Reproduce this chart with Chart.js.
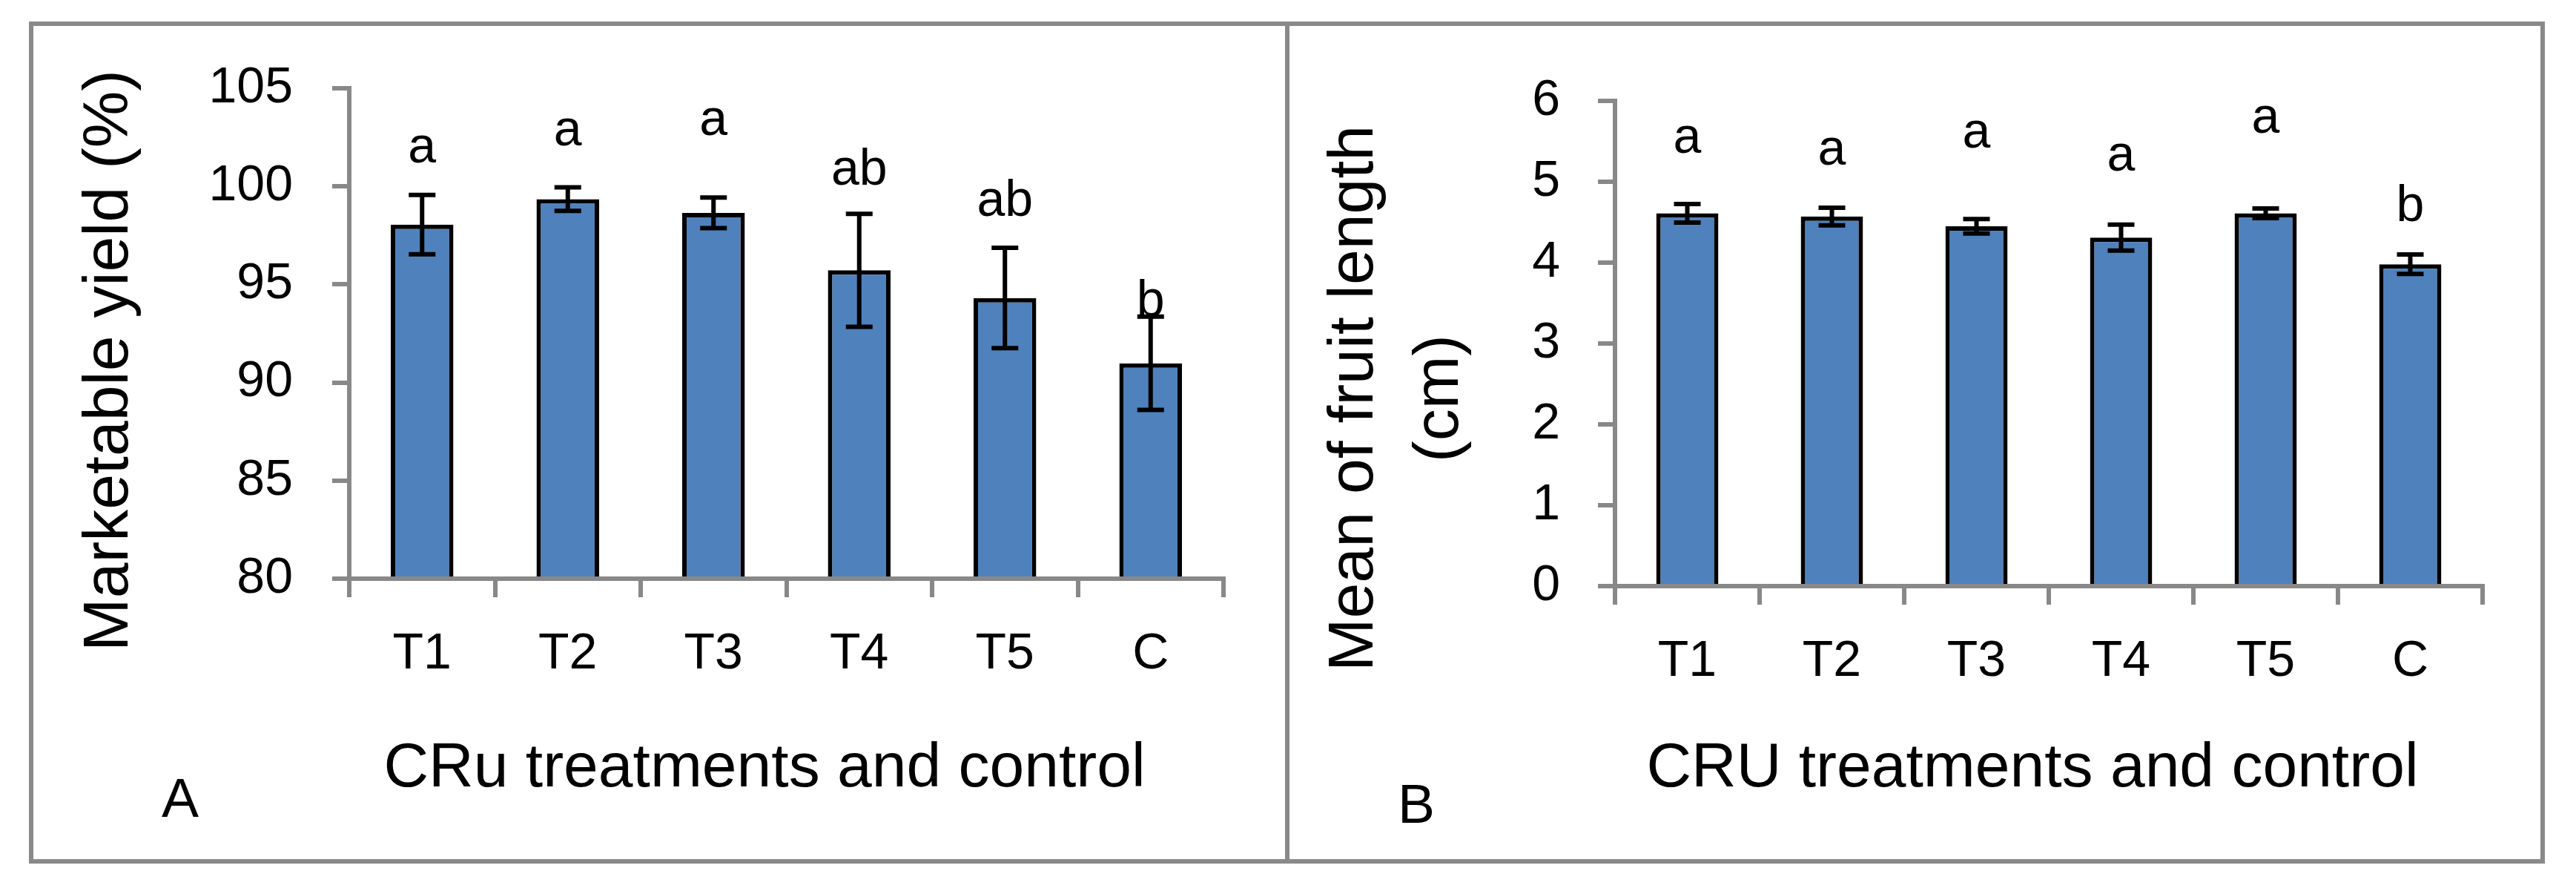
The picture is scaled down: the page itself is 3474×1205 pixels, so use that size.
<!DOCTYPE html>
<html>
<head>
<meta charset="utf-8">
<script src="https://cdn.jsdelivr.net/npm/chart.js@4.4.1/dist/chart.umd.min.js"></script>
<style>
  html, body { margin: 0; padding: 0; background: #fff; }
  #page { position: relative; width: 3474px; height: 1205px; overflow: hidden; background: #fff; }
  #page canvas { position: absolute; left: 0; top: 0; }
  .frame { position: absolute; left: 39px; top: 29px; width: 3393px; height: 1135px;
           border: 6px solid #898989; box-sizing: border-box; }
  .divider { position: absolute; left: 1733px; top: 29px; width: 6px; height: 1135px; background: #898989; }
</style>
</head>
<body>
<div id="page">
  <div class="frame"></div>
  <div class="divider"></div>
  <canvas id="chartA" width="3474" height="1205" style="width:3474px;height:1205px"></canvas>
  <canvas id="chartB" width="3474" height="1205" style="width:3474px;height:1205px"></canvas>
</div>
<script>
// categories shared by both panels
const categories = ["T1", "T2", "T3", "T4", "T5", "C"];

// panel A: marketable yield (%)
const yieldMeans = [98.05, 99.35, 98.65, 95.72, 94.31, 90.98];
const yieldErrors = [1.51, 0.60, 0.78, 2.88, 2.56, 2.38];
const yieldLetters = ["a", "a", "a", "ab", "ab", "b"];
const yieldLetterAt = [101.2, 102.1, 102.6, 100.1, 98.5, 93.4];

// panel B: mean fruit length (cm)
const lengthMeans = [4.61, 4.57, 4.45, 4.31, 4.61, 3.98];
const lengthErrors = [0.115, 0.11, 0.09, 0.16, 0.06, 0.12];
const lengthLetters = ["a", "a", "a", "a", "a", "b"];
const lengthLetterAt = [5.36, 5.21, 5.42, 5.14, 5.61, 4.51];

const FONT = "'Liberation Sans', Arial, sans-serif";
const GRAY = "#888888";
const BLUE = "#4F81BD";

// error bars, significance letters and free text (titles, panel letter)
const marks = {
  id: "marks",
  afterDraw(chart, args, o) {
    const ctx = chart.ctx, y = chart.scales.y;
    const bars = chart.getDatasetMeta(0).data;
    ctx.save();
    ctx.strokeStyle = "#000";
    ctx.lineWidth = 6;
    bars.forEach((bar, i) => {
      const top = y.getPixelForValue(o.means[i] + o.errors[i]);
      const bot = y.getPixelForValue(o.means[i] - o.errors[i]);
      ctx.beginPath();
      ctx.moveTo(bar.x, top); ctx.lineTo(bar.x, bot);
      ctx.moveTo(bar.x - 18, top); ctx.lineTo(bar.x + 18, top);
      ctx.moveTo(bar.x - 18, bot); ctx.lineTo(bar.x + 18, bot);
      ctx.stroke();
    });
    ctx.fillStyle = "#000";
    ctx.textAlign = "center";
    ctx.textBaseline = "alphabetic";
    ctx.font = "68px " + FONT;
    bars.forEach((bar, i) => ctx.fillText(o.letters[i], bar.x, y.getPixelForValue(o.letterAt[i])));
    o.texts.forEach((t) => {
      ctx.save();
      ctx.font = t.size + "px " + FONT;
      ctx.textAlign = t.align || "center";
      ctx.translate(t.x, t.y);
      if (t.rotate) ctx.rotate(-Math.PI / 2);
      ctx.fillText(t.text, 0, 0);
      ctx.restore();
    });
    ctx.restore();
  }
};

function makeChart(id, means, yScale, pad, yWidth, extra) {
  return new Chart(document.getElementById(id), {
    type: "bar",
    data: {
      labels: categories,
      datasets: [{
        data: means,
        backgroundColor: BLUE,
        borderColor: "#000",
        borderWidth: 6,
        barPercentage: 0.43,
        categoryPercentage: 1.0,
      }],
    },
    options: {
      responsive: false,
      animation: false,
      devicePixelRatio: 1,
      layout: { padding: pad },
      plugins: { legend: { display: false }, tooltip: { enabled: false }, marks: extra },
      scales: {
        x: {
          offset: true,
          grid: { offset: true, drawOnChartArea: false, drawTicks: true, tickLength: 25,
                  color: GRAY, tickColor: GRAY, lineWidth: 6, tickWidth: 6 },
          border: { display: true, color: GRAY, width: 6, z: 1 },
          ticks: { color: "#000", font: { family: FONT, size: 68 }, padding: 36, maxRotation: 0 },
          afterFit: (s) => { s.height = 200; },
        },
        y: Object.assign({
          grid: { drawOnChartArea: false, drawTicks: true, tickLength: 23,
                  color: GRAY, tickColor: GRAY, lineWidth: 6, tickWidth: 6 },
          border: { display: true, color: GRAY, width: 6, z: 1 },
          afterFit: (s) => { s.width = yWidth; },
        }, yScale),
      },
    },
    plugins: [marks],
  });
}

makeChart("chartA", yieldMeans,
  { min: 80, max: 105, ticks: { stepSize: 5, color: "#000", font: { family: FONT, size: 68 }, padding: 53 } },
  { left: 200, right: 1824, top: 119, bottom: 225 }, 271,
  {
    means: yieldMeans, errors: yieldErrors, letters: yieldLetters, letterAt: yieldLetterAt,
    texts: [
      { text: "Marketable yield (%)", x: 172, y: 486, size: 86, rotate: true },
      { text: "CRu treatments and control", x: 1031, y: 1060, size: 84 },
      { text: "A", x: 218, y: 1101, size: 75, align: "left" },
    ],
  });

makeChart("chartB", lengthMeans,
  { min: 0, max: 6, ticks: { stepSize: 1, color: "#000", font: { family: FONT, size: 68 }, padding: 51 } },
  { left: 1900, right: 126, top: 136, bottom: 215 }, 278,
  {
    means: lengthMeans, errors: lengthErrors, letters: lengthLetters, letterAt: lengthLetterAt,
    texts: [
      { text: "Mean of fruit length", x: 1851, y: 537, size: 86, rotate: true },
      { text: "(cm)", x: 1966, y: 537, size: 86, rotate: true },
      { text: "CRU treatments and control", x: 2741, y: 1060, size: 84 },
      { text: "B", x: 1885, y: 1109, size: 75, align: "left" },
    ],
  });
</script>
</body>
</html>
